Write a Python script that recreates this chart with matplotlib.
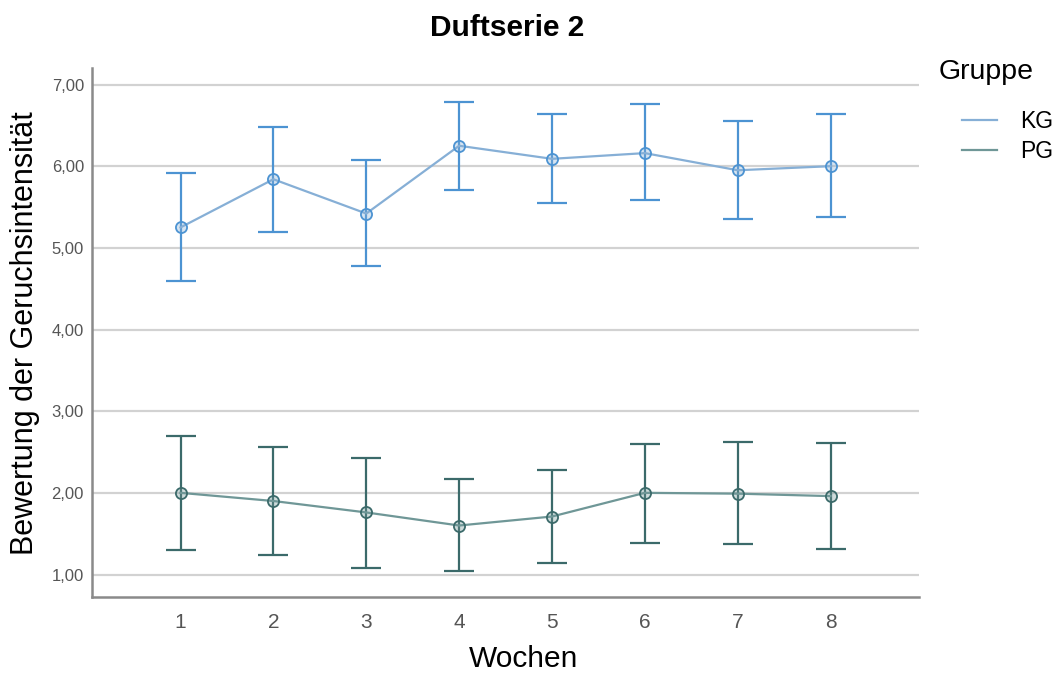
import matplotlib
matplotlib.use("Agg")
import matplotlib.pyplot as plt

plt.rcParams["font.family"] = ["Liberation Sans", "DejaVu Sans"]

weeks = [1, 2, 3, 4, 5, 6, 7, 8]

kg_mean = [5.25, 5.84, 5.42, 6.25, 6.09, 6.16, 5.95, 6.00]
kg_low = [4.59, 5.20, 4.78, 5.71, 5.55, 5.58, 5.35, 5.38]
kg_high = [5.92, 6.48, 6.07, 6.79, 6.64, 6.76, 6.55, 6.64]

pg_mean = [2.00, 1.90, 1.76, 1.60, 1.71, 2.00, 1.99, 1.96]
pg_low = [1.30, 1.24, 1.08, 1.04, 1.14, 1.38, 1.37, 1.31]
pg_high = [2.69, 2.56, 2.43, 2.17, 2.28, 2.60, 2.62, 2.61]

y_ticks = [1, 2, 3, 4, 5, 6, 7]

groups = [
    ("KG", kg_mean, kg_low, kg_high, "#86AFD6", "#4C93D2"),
    ("PG", pg_mean, pg_low, pg_high, "#6F9797", "#3B6A6A"),
]

fig = plt.figure(figsize=(10.61, 6.75), dpi=100)
ax = fig.add_axes([0.087, 0.115, 0.779, 0.784])

for y in y_ticks:
    ax.axhline(y, color="#D2D2D2", lw=1.6, zorder=0)

handles = []
for name, mean, low, high, line_col, bar_col in groups:
    err = [[m - l for m, l in zip(mean, low)], [h - m for m, h in zip(mean, high)]]
    ax.errorbar(weeks, mean, yerr=err, fmt="none", ecolor=bar_col,
                elinewidth=1.6, capsize=11, capthick=1.6, zorder=2)
    ln, = ax.plot(weeks, mean, color=line_col, lw=1.6, zorder=3)
    ax.plot(weeks, mean, "o", ms=8, mfc=line_col + "55", mec=bar_col,
            mew=1.3, zorder=4)
    handles.append((ln, name))

ax.set_xlim(0.05, 8.95)
ax.set_ylim(0.72, 7.2)
ax.set_xticks(weeks)
ax.set_xticklabels([str(w) for w in weeks], fontsize=15, color="#555555")
ax.set_yticks(y_ticks)
ax.set_yticklabels([f"{y},00" for y in y_ticks], fontsize=12, color="#555555")
ax.tick_params(length=0, pad=6)
ax.tick_params(axis="x", pad=11)

for side in ["top", "right"]:
    ax.spines[side].set_visible(False)
for side in ["left", "bottom"]:
    ax.spines[side].set_color("#8A8A8A")
    ax.spines[side].set_linewidth(1.8)

ax.set_xlabel("Wochen", fontsize=21.5, labelpad=12)
ax.xaxis.set_label_coords(0.522, -0.09)
ax.set_ylabel("Bewertung der Geruchsintensität", fontsize=22, labelpad=8)

fig.text(0.478, 0.958, "Duftserie 2", fontsize=21.5, fontweight="bold",
         ha="center", va="center")

fig.text(0.885, 0.893, "Gruppe", fontsize=20.5, ha="left", va="center")
leg = fig.legend([h for h, _ in handles], [n for _, n in handles],
                 loc="upper left", bbox_to_anchor=(0.898, 0.85),
                 frameon=False, fontsize=16.5, handlelength=1.55,
                 handletextpad=1.0, labelspacing=0.3, borderaxespad=0)

fig.savefig("out.png", dpi=100)
